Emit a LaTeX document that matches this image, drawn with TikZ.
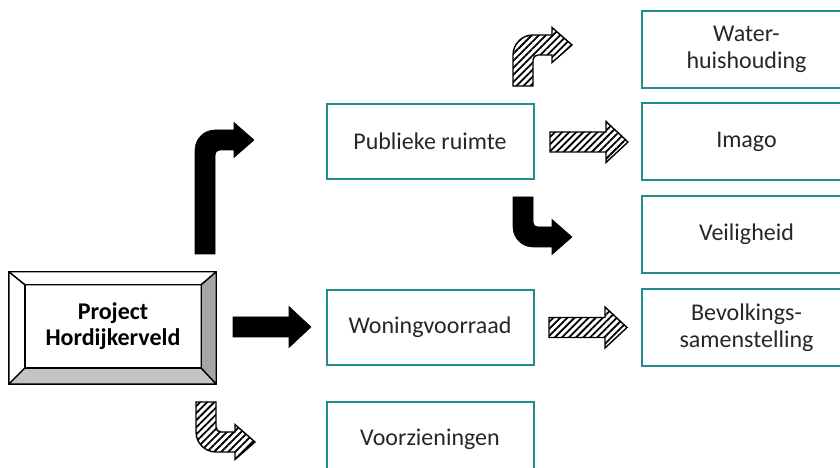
\documentclass[tikz,border=0pt]{standalone}
\usepackage{fontspec}
\setmainfont{Carlito}
\usepackage{tikz}
\usetikzlibrary{calc,positioning,patterns.meta}
\definecolor{boxteal}{HTML}{238C8C}
\definecolor{bevelgrey}{HTML}{A6A6A6}
\definecolor{bevellight}{HTML}{C4C4C4}
\definecolor{inktext}{HTML}{262626}

\tikzset{
  themebox/.style={draw=boxteal,line width=2pt,minimum width=207,minimum height=75,
    inner sep=0pt,align=center,text=inktext,font=\fontsize{24}{27}\selectfont},
  solidarrow/.style={fill=black,draw=black,line width=0.6pt},
  hatched/.style={draw=black,line width=1.4pt,fill=white,
    pattern={Lines[angle=45,distance=5pt,line width=1.8pt]}},
  pics/bentarrow/.style args={#1/#2}{code={
    \draw[#2] (0,0) -- (0,#1-20) .. controls (0,#1-9) and (9,#1) .. (20,#1)
      -- (39,#1) -- (39,#1+7.5) -- (59,#1-10) -- (39,#1-27.5) -- (39,#1-20)
      -- (25,#1-20) .. controls (22,#1-20) and (20,#1-22) .. (20,#1-25)
      -- (20,0) -- cycle;
  }},
  pics/blockarrow/.style={code={
    \draw[#1] (0,-10) -- (56,-10) -- (56,-20.5) -- (78,0) -- (56,20.5)
      -- (56,10) -- (0,10) -- cycle;
  }}
}

\begin{document}
\begin{tikzpicture}[x=1pt,y=1pt]
  \useasboundingbox (0,0) rectangle (840,468);
  \clip (0,0) rectangle (840,468);

  % project box with bevel
  \node[minimum width=176,minimum height=83,inner sep=0pt,align=center,
    font=\fontsize{24}{26}\selectfont\bfseries] (project) at (113,141.5) {Project\\Hordijkerveld};
  \coordinate (onw) at ($(project.north west)+(-16,13)$);
  \coordinate (one) at ($(project.north east)+(15,13)$);
  \coordinate (osw) at ($(project.south west)+(-16,-16)$);
  \coordinate (ose) at ($(project.south east)+(15,-16)$);
  \begin{scope}[draw=black,line width=1.4pt,line join=round]
    \filldraw[fill=white] (onw) -- (one) -- (project.north east) -- (project.north west) -- cycle;
    \filldraw[fill=white] (onw) -- (project.north west) -- (project.south west) -- (osw) -- cycle;
    \filldraw[fill=bevelgrey] (one) -- (ose) -- (project.south east) -- (project.north east) -- cycle;
    \filldraw[fill=bevellight] (osw) -- (ose) -- (project.south east) -- (project.south west) -- cycle;
    \draw (project.north west) rectangle (project.south east);
  \end{scope}

  % themes
  \foreach \name/\lab/\y in {%
    publiek/Publieke ruimte/326.5,
    woning/Woningvoorraad/140.5,
    voorz/Voorzieningen/28.5%
  } {
    \node[themebox] (\name) at (430,\y) {\lab};
  }
  % right column runs off the page
  \foreach \name/\lab/\y in {%
    water/Water-\\huishouding/418.5,
    imago/Imago/326.5,
    veilig/Veiligheid/233.5,
    bevolking/Bevolkings-\\samenstelling/140.5%
  } {
    \node[themebox,draw=none] (\name) at (746.5,\y) {\lab};
    \draw[boxteal,line width=2pt] ($(\name.north east)+(20,0)$) -- (\name.north west)
      -- (\name.south west) -- ($(\name.south east)+(20,0)$);
  }

  % block arrows
  \pic at (195,214) {bentarrow={124/solidarrow}};
  \pic at (233,141) {blockarrow=solidarrow};
  \pic[yscale=-1] at (196,66) {bentarrow={50/hatched}};
  \pic at (513,382) {bentarrow={51/hatched}};
  \pic at (550,326) {blockarrow=hatched};
  \pic[yscale=-1] at (513,271) {bentarrow={50/solidarrow}};
  \pic at (549,140.5) {blockarrow=hatched};
\end{tikzpicture}
\end{document}
